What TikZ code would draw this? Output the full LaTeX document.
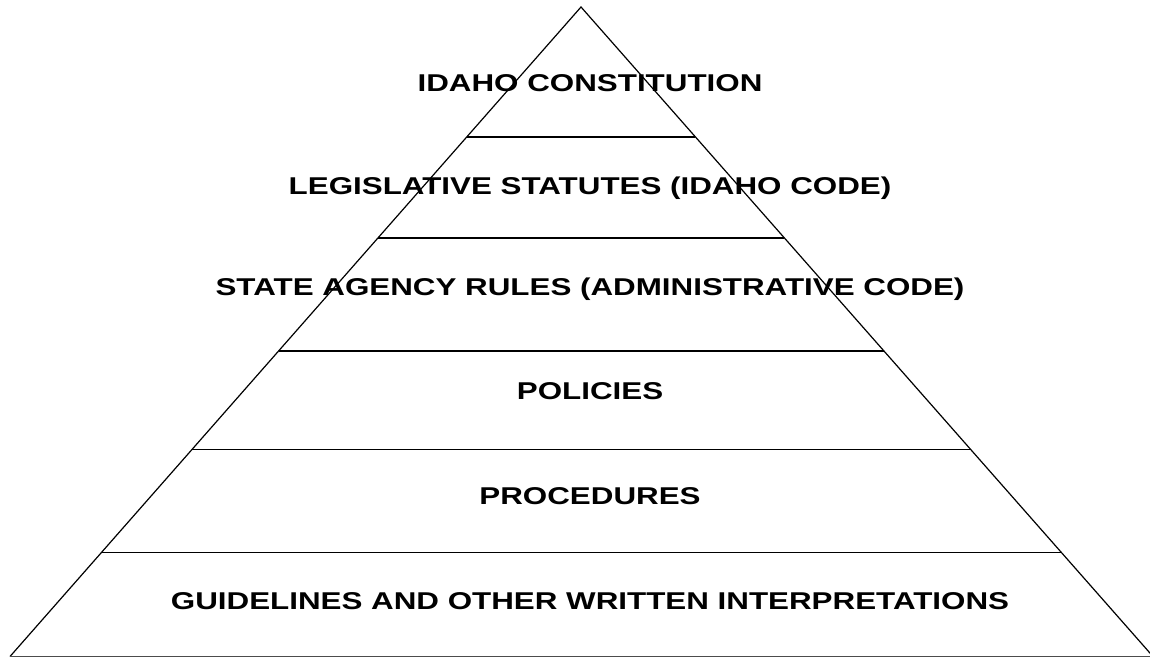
\documentclass[tikz,border=0pt]{standalone}
\usepackage{fontspec}
\setmainfont{Liberation Sans}
\usepackage{tikz}
\usetikzlibrary{calc}

\begin{document}
\begin{tikzpicture}[x=1pt,y=-1pt,
	layer/.style={font=\bfseries\fontsize{24.3}{28}\selectfont,xscale=1.29,transform shape,inner sep=0pt},
	sep/.style={draw,line width=1.7pt}]
\useasboundingbox (0,0) rectangle (1150,658);
\coordinate (top) at (581,7);
\coordinate (bl) at (10,656.5);
\coordinate (br) at (1153,656.5);
\draw [line width=1.2pt] (bl) -- (top) -- (br);
\draw [line width=1.2pt,black!70] (bl) -- (br);
% separators
\draw [sep] ($(top)!0.2!(bl)$) -- ($(top)!0.2!(br)$);
\draw [sep] ($(top)!0.3554!(bl)$) -- ($(top)!0.3554!(br)$);
\draw [sep] ($(top)!0.5292!(bl)$) -- ($(top)!0.5292!(br)$);
\draw [sep] ($(top)!0.6815!(bl)$) -- ($(top)!0.6815!(br)$);
\draw [sep] ($(top)!0.84!(bl)$) -- ($(top)!0.84!(br)$);
% texts
\node [layer] (const) at (590,83.5) {IDAHO CONSTITUTION};
\node [layer] (statutes) at (590,188.5) {LEGISLATIVE STATUTES (IDAHO CODE)};
\node [layer] (rules) at (590,289) {STATE AGENCY RULES (ADMINISTRATIVE CODE)};
\node [layer] (policies) at (590,391) {POLICIES};
\node [layer] (procedures) at (590,496) {PROCEDURES};
\node [layer] (guidelines) at (590,601.5) {GUIDELINES AND OTHER WRITTEN INTERPRETATIONS};
\end{tikzpicture}
\end{document}
